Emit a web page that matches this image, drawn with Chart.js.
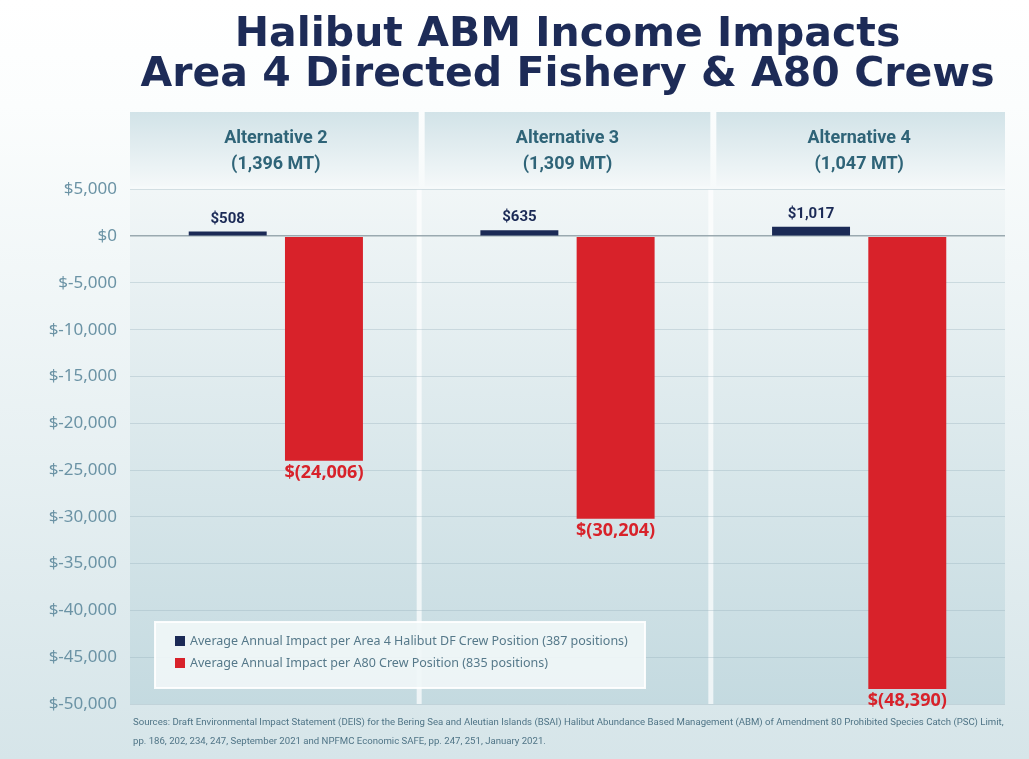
<!DOCTYPE html>
<html>
<head>
<meta charset="utf-8">
<script src="https://cdn.jsdelivr.net/npm/chart.js@4.4.1/dist/chart.umd.min.js"></script>
<style>
  html, body { margin: 0; padding: 0; background: #ffffff; }
  #wrap { width: 1029px; height: 759px; position: relative; }
</style>
</head>
<body>
<div id="wrap"><canvas id="abmChart" width="1029" height="759"></canvas></div>
<script>
// chart values
const categories = [
    ['Alternative 2', '(1,396 MT)'],
    ['Alternative 3', '(1,309 MT)'],
    ['Alternative 4', '(1,047 MT)']
];
const halibutCrew = [508, 635, 1017];          // Area 4 Halibut DF crew position
const a80Crew = [-24006, -30204, -48390];       // A80 crew position
const seriesNames = [
    'Average Annual Impact per Area 4 Halibut DF Crew Position (387 positions)',
    'Average Annual Impact per A80 Crew Position (835 positions)'
];
const titleLines = ['Halibut ABM Income Impacts', 'Area 4 Directed Fishery & A80 Crews'];
const sourceLines = [
    'Sources: Draft Environmental Impact Statement (DEIS) for the Bering Sea and Aleutian Islands (BSAI) Halibut Abundance Based Management (ABM) of Amendment 80 Prohibited Species Catch (PSC) Limit,',
    'pp. 186, 202, 234, 247, September 2021 and NPFMC Economic SAFE, pp. 247, 251, January 2021.'
];
const yMin = -50000, yMax = 5000, yStep = 5000;

const NAVY = '#1b2a56';
const RED = '#d8222a';
const TEAL = '#2f6478';

function fmtMoney(v) {
    if (v < 0) return '$(' + Math.abs(v).toLocaleString('en-US') + ')';
    return '$' + v.toLocaleString('en-US');
}

// page + panel backgrounds
const backgroundPlugin = {
    id: 'panelBg',
    beforeDraw(chart) {
        const ctx = chart.ctx;
        const a = chart.chartArea;
        const W = chart.width, H = chart.height;
        ctx.save();
        let g = ctx.createLinearGradient(0, 0, 0, H);
        g.addColorStop(0, '#ffffff');
        g.addColorStop(0.14, '#fbfdfd');
        g.addColorStop(1, '#d6e5e9');
        ctx.fillStyle = g;
        ctx.fillRect(0, 0, W, H);

        // plot gradient
        g = ctx.createLinearGradient(0, a.top, 0, a.bottom);
        g.addColorStop(0, '#f1f6f7');
        g.addColorStop(1, '#c4dae0');
        ctx.fillStyle = g;
        ctx.fillRect(a.left, a.top, a.right - a.left, a.bottom - a.top);

        // header cells
        const n = categories.length;
        const cw = (a.right - a.left) / n;
        const hTop = 112, hBot = a.top - 3;
        g = ctx.createLinearGradient(0, hTop, 0, hBot);
        g.addColorStop(0, '#d2e3e8');
        g.addColorStop(1, '#f4f8f9');
        for (let i = 0; i < n; i++) {
            ctx.fillStyle = g;
            ctx.fillRect(a.left + i * cw + (i ? 3 : 0), hTop, cw - (i ? 3 : 0) - (i < n - 1 ? 3 : 0), hBot - hTop);
        }
        // white separators in plot
        ctx.fillStyle = 'rgba(255,255,255,0.7)';
        for (let i = 1; i < n; i++) {
            ctx.fillRect(a.left + i * cw - 5, a.top, 5, a.bottom - a.top);
        }
        ctx.restore();
    }
};

// value labels on bars
const valueLabelPlugin = {
    id: 'valueLabels',
    afterDatasetsDraw(chart) {
        const ctx = chart.ctx;
        ctx.save();
        ctx.textAlign = 'center';
        chart.data.datasets.forEach((ds, di) => {
            const meta = chart.getDatasetMeta(di);
            meta.data.forEach((bar, i) => {
                const v = ds.data[i];
                if (v >= 0) {
                    ctx.font = 'bold 15px "Roboto"';
                    ctx.fillStyle = NAVY;
                    ctx.textBaseline = 'bottom';
                    ctx.fillText(fmtMoney(v), bar.x, bar.y - 5);
                } else {
                    ctx.font = 'bold 18px "Noto Sans"';
                    ctx.fillStyle = RED;
                    ctx.textBaseline = 'top';
                    ctx.fillText(fmtMoney(v), bar.x, bar.y + 3);
                }
            });
        });
        ctx.restore();
    }
};

// legend box inside the plot + source notes
const boxLegendPlugin = {
    id: 'boxLegend',
    afterDraw(chart) {
        const ctx = chart.ctx;
        const a = chart.chartArea;
        ctx.save();
        const bx = 155, by = 622, bw = 490, bh = 66;
        ctx.fillStyle = 'rgba(240,246,247,0.92)';
        ctx.fillRect(bx, by, bw, bh);
        ctx.strokeStyle = 'rgba(255,255,255,0.9)';
        ctx.lineWidth = 2;
        ctx.strokeRect(bx, by, bw, bh);
        ctx.font = '12.5px "Noto Sans"';
        ctx.textBaseline = 'middle';
        ctx.textAlign = 'left';
        chart.data.datasets.forEach((ds, i) => {
            const y = by + 19 + i * 22;
            ctx.fillStyle = ds.backgroundColor;
            ctx.fillRect(bx + 20, y - 5, 10, 10);
            ctx.fillStyle = '#56798a';
            ctx.fillText(ds.label, bx + 35, y);
        });

        ctx.font = '9.6px "Roboto"';
        ctx.fillStyle = '#4f7486';
        ctx.textBaseline = 'middle';
        sourceLines.forEach((t, i) => ctx.fillText(t, a.left + 3, 723 + i * 19));
        ctx.restore();
    }
};

const ctx = document.getElementById('abmChart').getContext('2d');
new Chart(ctx, {
    type: 'bar',
    data: {
        labels: categories,
        datasets: [
            { label: seriesNames[0], data: halibutCrew, backgroundColor: NAVY },
            { label: seriesNames[1], data: a80Crew, backgroundColor: RED }
        ]
    },
    options: {
        responsive: false,
        animation: false,
        layout: { padding: { left: 0, right: 24, top: 0, bottom: 55 } },
        datasets: {
            bar: { categoryPercentage: 0.66, barPercentage: 0.81 }
        },
        plugins: {
            legend: { display: false },
            tooltip: { enabled: false },
            title: {
                display: true,
                fullSize: false,
                text: titleLines,
                color: '#1d2b57',
                font: { family: 'DejaVu Sans', size: 41, weight: 'bold', lineHeight: 0.98 },
                padding: { top: 15, bottom: 17 }
            }
        },
        scales: {
            x: {
                position: 'top',
                grid: { display: false },
                border: { display: false },
                ticks: {
                    color: TEAL,
                    font: { family: 'Roboto', size: 18, weight: 'bold', lineHeight: 1.45 },
                    padding: 4
                },
                afterFit(scale) { scale.height = 77; }
            },
            y: {
                min: yMin,
                max: yMax,
                border: { display: false },
                grid: {
                    drawTicks: false,
                    color: (c) => c.tick && c.tick.value === 0 ? '#9aa9b0' : 'rgba(150,175,185,0.35)',
                    lineWidth: (c) => c.tick && c.tick.value === 0 ? 1.5 : 1
                },
                ticks: {
                    stepSize: yStep,
                    color: '#6b93a5',
                    font: { family: 'Noto Sans', size: 17 },
                    padding: 13,
                    callback: (v) => '$' + Number(v).toLocaleString('en-US')
                },
                afterFit(scale) { scale.width = 130; }
            }
        }
    },
    plugins: [backgroundPlugin, valueLabelPlugin, boxLegendPlugin]
});
</script>
</body>
</html>
